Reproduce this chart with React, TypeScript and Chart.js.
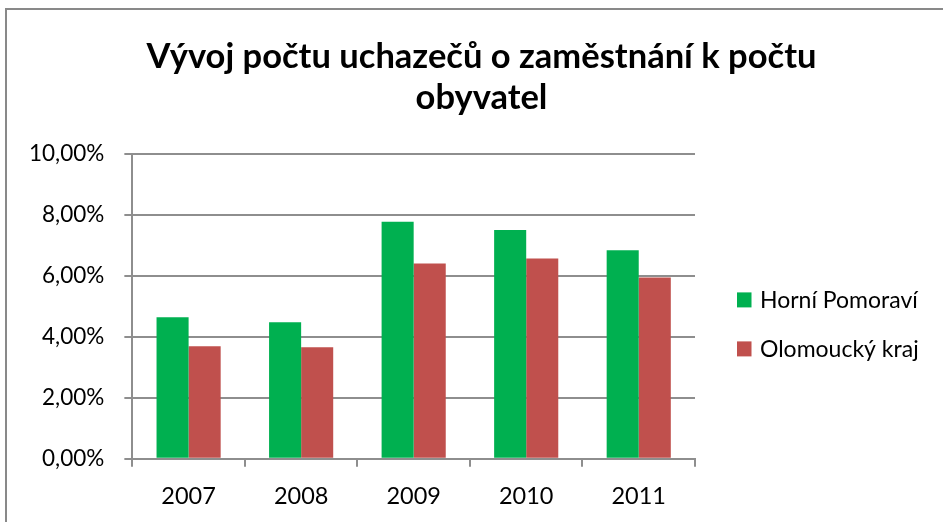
import React, { useEffect, useRef } from "react";
import { Chart, registerables } from "chart.js";

Chart.register(...registerables);

const categories = ["2007", "2008", "2009", "2010", "2011"];
const horniPomoravi = [4.64, 4.48, 7.78, 7.51, 6.84];
const olomouckyKraj = [3.69, 3.66, 6.41, 6.57, 5.95];
const titleLines = ["Vývoj počtu uchazečů o zaměstnání k počtu", "obyvatel"];
const seriesNames = ["Horní Pomoraví", "Olomoucký kraj"];
const seriesColors = ["#00B050", "#C0504D"];

const FONT = "Lato, 'Open Sans', sans-serif";
const GRID = "#8e8e8e";

const sideLegend = {
  id: "sideLegend",
  afterDraw(chart: any) {
    const ctx = chart.ctx;
    const area = chart.chartArea;
    const x = area.right + 42;
    const centerY = (area.top + area.bottom) / 2 + 18;
    const gap = 49;
    const n = chart.data.datasets.length;
    ctx.save();
    ctx.font = `23px ${FONT}`;
    ctx.textBaseline = "middle";
    ctx.textAlign = "left";
    chart.data.datasets.forEach((ds: any, i: number) => {
      const cy = centerY + (i - (n - 1) / 2) * gap;
      ctx.fillStyle = ds.backgroundColor;
      ctx.fillRect(x, cy - 7.5, 14.5, 15);
      ctx.fillStyle = "#000";
      ctx.fillText(ds.label, x + 23, cy + 1);
    });
    ctx.restore();
  },
};

const centeredTitle = {
  id: "centeredTitle",
  afterDraw(chart: any) {
    const ctx = chart.ctx;
    const cx = chart.width / 2 + 10;
    ctx.save();
    ctx.font = `bold 34.5px ${FONT}`;
    ctx.textBaseline = "middle";
    ctx.textAlign = "center";
    ctx.fillStyle = "#000";
    titleLines.forEach((line, i) => {
      ctx.fillText(line, cx, 57 + i * 41);
    });
    ctx.restore();
  },
};

export default function App() {
  const ref = useRef<HTMLCanvasElement | null>(null);

  useEffect(() => {
    if (!ref.current) return;
    const chart = new Chart(ref.current, {
      type: "bar",
      data: {
        labels: categories,
        datasets: [
          {
            label: seriesNames[0],
            data: horniPomoravi,
            backgroundColor: seriesColors[0],
            borderWidth: 0,
            categoryPercentage: 0.57,
            barPercentage: 1,
          },
          {
            label: seriesNames[1],
            data: olomouckyKraj,
            backgroundColor: seriesColors[1],
            borderWidth: 0,
            categoryPercentage: 0.57,
            barPercentage: 1,
          },
        ],
      },
      plugins: [sideLegend, centeredTitle],
      options: {
        responsive: false,
        animation: false,
        layout: { padding: { left: 9, right: 248, top: 154, bottom: -5 } },
        plugins: {
          title: { display: false },
          legend: { display: false },
          tooltip: { enabled: false },
        },
        scales: {
          x: {
            grid: {
              display: true,
              drawOnChartArea: false,
              drawTicks: true,
              tickLength: 8,
              color: GRID,
              lineWidth: 2,
            },
            border: { display: true, color: GRID, width: 2 },
            ticks: {
              color: "#000",
              font: { family: FONT, size: 23.5 },
              padding: 16,
            },
          },
          y: {
            min: 0,
            max: 10,
            ticks: {
              stepSize: 2,
              color: "#000",
              font: { family: FONT, size: 22.5 },
              padding: 20,
              callback: (v: any) => Number(v).toFixed(2).replace(".", ",") + "%",
            },
            grid: {
              color: GRID,
              lineWidth: 2,
              drawTicks: true,
              tickLength: 8,
            },
            border: { display: true, color: GRID, width: 2 },
          },
        },
      },
    });
    return () => chart.destroy();
  }, []);

  return (
    <div
      style={{
        position: "fixed",
        left: 0,
        top: 0,
        width: 943,
        height: 522,
        overflow: "hidden",
        background: "#fff",
      }}
    >
      <canvas ref={ref} width={943} height={522} style={{ position: "absolute", left: 0, top: 0 }} />
      <div
        style={{
          position: "absolute",
          left: 5,
          top: 8,
          width: 960,
          height: 540,
          border: "2px solid #898989",
          boxSizing: "border-box",
          pointerEvents: "none",
        }}
      />
    </div>
  );
}
